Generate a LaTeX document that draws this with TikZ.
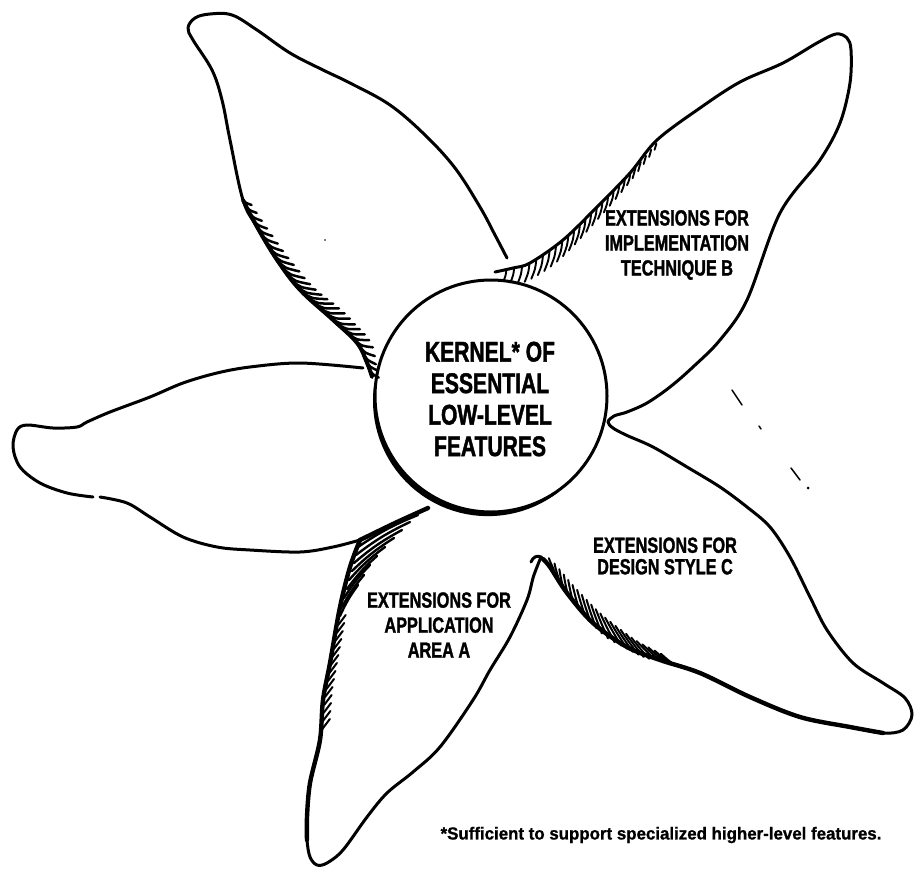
\documentclass[tikz,border=0pt]{standalone}
\usepackage{fontspec}
\setmainfont{Liberation Sans}
\newfontfamily\condfont{Liberation Sans Bold}[FakeStretch=0.74,FakeBold=1.4]
\newfontfamily\footfont{Liberation Sans Bold}[FakeStretch=0.97,FakeBold=1.0]
\usetikzlibrary{decorations.markings}
\tikzset{
  outline/.style={line width=3pt, line cap=round, line join=round},
  thickedge/.style={line width=4.4pt, line cap=round, line join=round},
  hatchln/.style={line width=2pt, line cap=round},
  lbl/.style={font=\condfont\fontsize{22}{25}\selectfont, align=center, inner sep=0pt},
  lblc/.style={font=\condfont\fontsize{22}{21.5}\selectfont, align=center, inner sep=0pt},
  kern/.style={font=\condfont\fontsize{28.5}{31.5}\selectfont, align=center, inner sep=0pt},
  foot/.style={font=\footfont\fontsize{17.4}{20}\selectfont, inner sep=0pt},
  tlhatch/.style={postaction={decorate}, decoration={markings,
    mark=between positions 0.02 and 0.99 step 8pt with {
      \pgfmathsetmacro\hT{\pgfkeysvalueof{/pgf/decoration/mark info/distance from start}/\pgfdecoratedpathlength}
      \pgfmathsetmacro\hF{0.4+0.6*sin(180*\hT)}
      \draw[hatchln, line width=2.5pt] (0pt,0.5pt) .. controls ({10*\hF*1pt},{2*\hF*1pt}) .. ({22*\hF*1pt},{13*\hF*1pt});
    }}},
  trhatch/.style={postaction={decorate}, decoration={markings,
    mark=between positions 0.03 and 0.99 step 8pt with {
      \pgfmathsetmacro\hT{\pgfkeysvalueof{/pgf/decoration/mark info/distance from start}/\pgfdecoratedpathlength}
      \pgfmathsetmacro\hL{6+15*sin(180*(\hT^0.6))}
      \pgftransformresetnontranslations
      \draw[hatchln, line width=1.9pt] (0pt,-1pt) .. controls ({-0.05*\hL*1pt},{-0.5*\hL*1pt}) .. ({-0.25*\hL*1pt},{-\hL*1pt});
    }}},
  brhatch/.style={postaction={decorate}, decoration={markings,
    mark=between positions 0.02 and 0.95 step 7pt with {
      \pgfmathsetmacro\hT{\pgfkeysvalueof{/pgf/decoration/mark info/distance from start}/\pgfdecoratedpathlength}
      \pgfmathsetmacro\hF{0.35+0.65*sin(180*\hT)}
      \draw[hatchln, line width=2pt] (0pt,{12*\hF*1pt}) .. controls ({12*\hF*1pt},{7*\hF*1pt}) .. ({30*\hF*1pt},0.5pt);
    }}}
}
\begin{document}
\begin{tikzpicture}[x=1pt,y=-1pt]
\useasboundingbox[fill=white] (0,0) rectangle (914,870);

% kernel circle
\node[circle, draw, line width=3pt, minimum size=232pt, inner sep=0pt] (kernelc) at (491,396) {};
\fill plot[domain=55:185, samples=40, variable=\a]
   ({491+(117.5+3.5*sin((\a-55)*1.3846))*cos(\a)}, {396+(117.5+3.5*sin((\a-55)*1.3846))*sin(\a)})
   -- plot[domain=185:55, samples=40, variable=\a] ({491+116*cos(\a)},{396+116*sin(\a)}) -- cycle;
\node[kern] (kernelt) at (490,399) {KERNEL* OF\\ESSENTIAL\\LOW-LEVEL\\FEATURES};

% top-left petal
\draw[outline] plot[smooth, tension=0.6] coordinates {(372,377) (367,363) (357,343) (333,320) (300,290) (277,260) (257,227) (243,200) (230,140) (222,100) (212,70) (193,40) (188,28) (195,18) (210,14) (232,15) (257,30) (290,53) (323,70) (350,83) (390,105) (425,135) (455,168) (480,207) (495,235) (507,258)};
\draw[line width=3.8pt, line cap=round] plot[smooth, tension=0.6] coordinates {(243,200) (257,227) (277,260) (300,290) (333,320) (357,343) (367,363) (372,377)};
\path[tlhatch] plot[smooth, tension=0.6] coordinates {(240,195) (257,227) (277,260) (300,290) (333,320) (357,343) (367,363) (372,377)};

% top-right and bottom-right petals
\draw[outline] plot[smooth, tension=0.55] coordinates {(495,272) (513,268) (530,263) (563,240) (597,207) (630,173) (657,140) (700,108) (740,82) (783,63) (817,43) (836,34) (847,38) (851,50) (850,83) (840,123) (820,160) (780,213) (747,300) (720,340) (693,367) (670,387) (647,403) (627,412) (614,416) (608,422) (613,428) (626,435) (653,447) (687,467) (720,487) (747,507) (770,527) (790,557) (810,597) (827,630) (853,663) (883,683) (905,698) (912,715) (903,730) (883,733) (850,727) (800,717) (750,697) (700,673) (660,660) (627,647) (593,623) (567,593) (550,567) (541,557)};
\draw[thickedge] plot[smooth, tension=0.55] coordinates {(543,559) (550,567) (567,593) (593,623) (627,647) (660,660) (700,673) (750,697) (800,717) (850,727) (883,733)};
\path[trhatch] plot[smooth, tension=0.55] coordinates {(500,271) (513,268) (530,263) (563,240) (597,207) (630,173) (662,136)};
\path[brhatch] plot[smooth, tension=0.55] coordinates {(543,559) (550,567) (567,593) (593,623) (627,647) (660,660) (672,664)};

% notch hook
\draw[outline] (541,557) .. controls (537,555) and (533,557) .. (531,562);

% bottom petal
\draw[outline] plot[smooth, tension=0.55] coordinates {(541,557) (537,567) (533,578) (527,600) (510,637) (490,670) (473,700) (440,747) (413,772) (387,793) (367,817) (343,850) (327,863) (317,865) (310,857) (307,840) (307,817) (310,783) (320,740) (323,700) (330,663) (340,607) (350,567) (360,540)};
\draw[thickedge] plot[smooth, tension=0.55] coordinates {(360,540) (350,567) (340,607) (330,663) (323,700) (320,740) (310,783) (307,817) (307,840)};
\draw[thickedge] plot[smooth] coordinates {(360,540) (395,523) (428,508)};
\foreach \sx/\sy/\ex/\ey in {358/547/418/515, 356/555/410/522, 354/563/402/530, 352/571/394/538, 349/580/385/547, 347/589/377/556, 344/598/370/565, 342/607/364/575, 340/616/358/585}
  \draw[hatchln, line width=2.4pt] (\sx,\sy) to[bend left=6] (\ex,\ey);
\foreach \yy in {625,633,...,729} {
  \pgfmathsetmacro\xe{\yy<700 ? 340-(\yy-607)*0.183 : 323-(\yy-700)*0.075}
  \draw[hatchln] (\xe+1.5,\yy) -- (\xe+9,\yy-10);
}

% left petal
\draw[outline] plot[smooth, tension=0.55] coordinates {(360,540) (333,547) (300,552) (250,550) (217,547) (183,537) (150,517) (127,503) (100,497)};
\draw[outline] plot[smooth, tension=0.55] coordinates {(93,497) (67,493) (40,483) (20,467) (13,447) (17,430) (27,425) (53,428) (77,427) (87,422) (110,412) (150,397) (183,383) (217,373) (250,367) (300,363) (363,368)};

% stray marks
\draw[line width=1.5pt, line cap=round] (732,390) -- (742,405);
\draw[line width=1.5pt, line cap=round] (759,426) -- (761,429);
\draw[line width=1.5pt, line cap=round] (791,468) -- (800,480);
\fill (808,488) circle[radius=1.5pt];
\fill (325,240) circle[radius=0.8pt];

% labels
\node[lbl] (labB) at (677,245) {EXTENSIONS FOR\\IMPLEMENTATION\\TECHNIQUE B};
\node[lbl] (labA) at (439,625) {EXTENSIONS FOR\\APPLICATION\\AREA A};
\node[lblc] (labC) at (665,556) {EXTENSIONS FOR\\DESIGN STYLE C};
\node[foot] (note) at (661,835) {*Sufficient to support specialized higher-level features.};
\end{tikzpicture}
\end{document}
